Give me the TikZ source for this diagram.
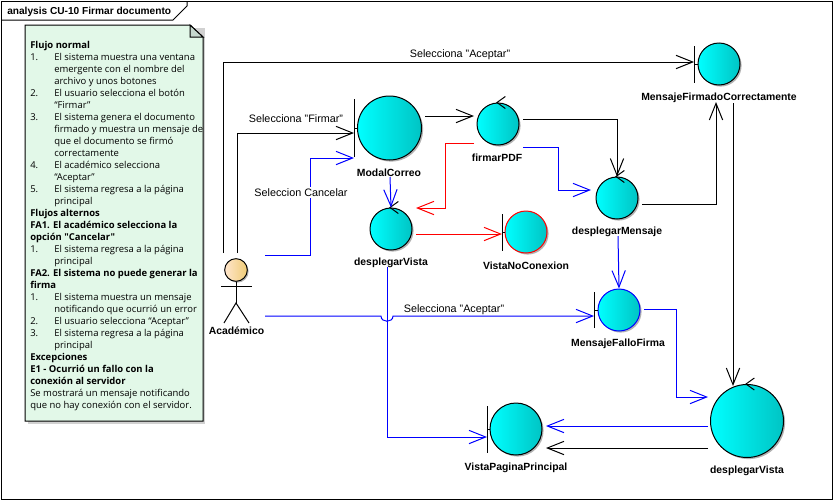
\documentclass[tikz,border=0pt]{standalone}
\usepackage{fontspec}
\setmainfont{Liberation Sans}
\newfontfamily\notafont{Open Sans}
\usetikzlibrary{arrows.meta, shadows, positioning}
\definecolor{cianoc}{HTML}{00C4C4}
\definecolor{notaverde}{HTML}{E2F8E8}
\definecolor{pliegue}{HTML}{C6D8CE}
\newcommand{\paso}[2]{\makebox[18pt][l]{#1}#2}
\tikzset{
  % Connector styles
  garr/.style={line width=0.75pt, -{Straight Barb[length=12.5pt,width=10pt]}},
  azul/.style={garr, draw=blue},
  rojo/.style={garr, draw=red},
  negro/.style={garr, draw=black},
  esfera/.style={circle, draw, line width=0.75pt, inner sep=0pt, minimum size=#1,
    left color=cyan, right color=cianoc,
    drop shadow={shadow xshift=1.2pt, shadow yshift=-1.2pt, fill=black, opacity=0.3}},
  nombre/.style={font=\fontsize{7.8}{10}\selectfont\bfseries, inner sep=0pt, yshift=-0.75pt},
  etiq/.style={font=\fontsize{8.1}{10}\selectfont, inner sep=1pt, yshift=-1pt},
  palo/.style={line width=0.75pt},
}
\begin{document}
\begin{tikzpicture}[x=0.75pt, y=-0.75pt]
  \useasboundingbox (0,0) rectangle (834,500);
  % frame
  \draw[line width=0.75pt, fill=white] (1,1) rectangle (832,499);
  \draw[line width=0.75pt] (1,20) -- (173,20) -- (187,6) -- (187,1);
  \node[nombre, anchor=west, font=\fontsize{7.6}{10}\selectfont\bfseries] (titulo) at (7,11) {analysis CU-10 Firmar documento};

  % note
  \fill[black!18] (28,28) rectangle (205,423.5);
  \draw[line width=0.75pt, fill=notaverde] (25,25) -- (190,25) -- (203,37) -- (203,421) -- (25,421) -- cycle;
  \draw[line width=0.75pt, fill=pliegue] (190,25) -- (190,37) -- (203,37) -- cycle;
  \node[anchor=north west, inner sep=0pt, align=left, font=\notafont\fontsize{7.1}{9}\selectfont] (nota) at (30,41.5) {%
    \textbf{Flujo normal}\\
    \paso{1.}{El sistema muestra una ventana}\\
    \paso{}{emergente con el nombre del}\\
    \paso{}{archivo y unos botones}\\
    \paso{2.}{El usuario selecciona el botón}\\
    \paso{}{“Firmar”}\\
    \paso{3.}{El sistema genera el documento}\\
    \paso{}{firmado y muestra un mensaje de}\\
    \paso{}{que el documento se firmó}\\
    \paso{}{correctamente}\\
    \paso{4.}{El académico selecciona}\\
    \paso{}{“Aceptar”}\\
    \paso{5.}{El sistema regresa a la página}\\
    \paso{}{principal}\\
    \textbf{Flujos alternos}\\
    \textbf{FA1. El académico selecciona la}\\
    \textbf{opción "Cancelar"}\\
    \paso{1.}{El sistema regresa a la página}\\
    \paso{}{principal}\\
    \textbf{FA2. El sistema no puede generar la}\\
    \textbf{firma}\\
    \paso{1.}{El sistema muestra un mensaje}\\
    \paso{}{notificando que ocurrió un error}\\
    \paso{2.}{El usuario selecciona “Aceptar”}\\
    \paso{3.}{El sistema regresa a la página}\\
    \paso{}{principal}\\
    \textbf{Excepciones}\\
    \textbf{E1 - Ocurrió un fallo con la}\\
    \textbf{conexión al servidor}\\
    Se mostrará un mensaje notificando\\
    que no hay conexión con el servidor.};

  % robustness elements
  \node[esfera=48pt] (modalCorreo) at (389.5,128) {};
  \node[esfera=31.5pt] (firmarPDF) at (498,124) {};
  \node[esfera=31.5pt] (desplegarVistaA) at (391,229) {};
  \node[esfera=31.5pt, draw=red] (vistaNoConexion) at (526,232) {};
  \node[esfera=31.5pt] (mensajeFirmado) at (719,64) {};
  \node[esfera=31.5pt] (desplegarMensaje) at (617,198) {};
  \node[esfera=31.5pt, draw=blue] (mensajeFallo) at (619,310) {};
  \node[esfera=54.75pt] (desplegarVistaB) at (747,421) {};
  \node[esfera=39pt] (vistaPagina) at (516,429) {};

  \node[nombre] (lModal) at (389,172) {ModalCorreo};
  \node[nombre] (lFirmar) at (497,157) {firmarPDF};
  \node[nombre] (lVistaA) at (391,262) {desplegarVista};
  \node[nombre] (lNoCon) at (526,265) {VistaNoConexion};
  \node[nombre] (lFirmado) at (719,97) {MensajeFirmadoCorrectamente};
  \node[nombre] (lMensaje) at (617,231) {desplegarMensaje};
  \node[nombre] (lFallo) at (618,343) {MensajeFalloFirma};
  \node[nombre] (lPagina) at (516,467) {VistaPaginaPrincipal};
  \node[nombre] (lVistaB) at (747,470) {desplegarVista};

  % boundary bars
  \foreach \nodo/\dx/\alto in {modalCorreo/35.5/29, mensajeFirmado/25/18.5, mensajeFallo/25/18,
      vistaPagina/29/23.5, vistaNoConexion/24/18.5} {
    \draw[palo] ([shift={(-\dx,\alto)}]\nodo.center) -- ([shift={(-\dx,-\alto)}]\nodo.center);
    \draw[palo] ([shift={(-\dx,0)}]\nodo.center) -- (\nodo.west);
  }
  % control chevrons
  \foreach \nodo in {firmarPDF, desplegarVistaA, desplegarMensaje, desplegarVistaB} {
    \draw[palo] ([xshift=5.5pt,yshift=4.5pt]\nodo.north) -- ([xshift=-0.75pt]\nodo.north) -- ([xshift=5.5pt,yshift=-4.5pt]\nodo.north);
  }

  % actor
  \node[circle, draw, line width=0.75pt, inner sep=0pt, minimum size=17pt,
    left color=orange!20, right color=orange!45!yellow!60!brown!60,
    drop shadow={shadow xshift=1pt, shadow yshift=-1pt, fill=black, opacity=0.3}] (academico) at (236,270) {};
  \coordinate (cadera) at (236,303);
  \draw[palo] (academico.south) -- (cadera);
  \draw[palo] (221,286) -- (252,286);
  \draw[palo] (224,323) -- (cadera) -- (249,323);
  \node[nombre] (lAcademico) at (236.5,329.5) {Académico};

  % connectors
  \draw[negro] ([shift={(-13,-17)}]academico.center) |- ([shift={(-25,-2)}]mensajeFirmado.center);
  \draw[negro] ([shift={(1,-17)}]academico.center) |- ([shift={(-35.5,5)}]modalCorreo.center);
  \draw[azul] ([shift={(29,-15)}]academico.center) -| (310,158) -- ([shift={(-35.5,30)}]modalCorreo.center);
  \draw[azul] ([shift={(29,46)}]academico.center) -- (381,316)
     .. controls (381,323) and (393,323) .. (393,316) -- ([shift={(-25,6)}]mensajeFallo.center);
  \draw[azul] ([shift={(-4,38)}]desplegarVistaA.center) |- ([shift={(-29,8)}]vistaPagina.center);
  \draw[negro] ([shift={(35.5,-12)}]modalCorreo.center) -- ([shift={(-24,-8)}]firmarPDF.center);
  \draw[azul] ([shift={(0.5,49)}]modalCorreo.center) -- (desplegarVistaA.north);
  \draw[rojo] ([shift={(-24,19)}]firmarPDF.center) -| (445,208) -- ([shift={(25,-21)}]desplegarVistaA.center);
  \draw[negro] ([shift={(25,-5)}]firmarPDF.center) -| (desplegarMensaje.north);
  \draw[azul] ([shift={(25,23)}]firmarPDF.center) -| (558,190) -- ([shift={(-26,-8)}]desplegarMensaje.center);
  \draw[rojo] ([shift={(25,5)}]desplegarVistaA.center) -- ([shift={(-24,2)}]vistaNoConexion.center);
  \draw[negro] ([shift={(25,6)}]desplegarMensaje.center) -| ([shift={(-3,38)}]mensajeFirmado.center);
  \draw[negro] ([shift={(14,39)}]mensajeFirmado.center) -- ([shift={(-14,-35)}]desplegarVistaB.center);
  \draw[azul] ([shift={(1,38)}]desplegarMensaje.center) -- (mensajeFallo.north);
  \draw[azul] ([shift={(25,-1)}]mensajeFallo.center) -| (676,397) -- ([shift={(-39,-24)}]desplegarVistaB.center);
  \draw[azul] ([shift={(-39,5)}]desplegarVistaB.center) -- ([shift={(30,-3)}]vistaPagina.center);
  \draw[negro] ([shift={(-39,27)}]desplegarVistaB.center) -- ([shift={(30,19)}]vistaPagina.center);

  % connector labels
  \node[etiq] (sAceptarA) at (460,53) {Selecciona "Aceptar"};
  \node[etiq] (sFirmar) at (296,117) {Selecciona "Firmar"};
  \node[etiq, fill=white] (sCancelar) at (301,191) {Seleccion Cancelar};
  \node[etiq] (sAceptarB) at (454,308) {Selecciona "Aceptar"};
\end{tikzpicture}
\end{document}
